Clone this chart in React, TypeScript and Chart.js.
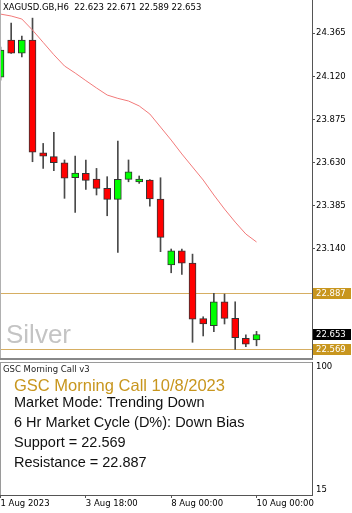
import { useEffect, useRef } from "react";
import { Chart, registerables } from "chart.js";

Chart.register(...registerables);

// ---------- data ----------
const SYMBOL = "XAGUSD.GB,H6";
const OPEN = [24.116, 24.326, 24.252, 24.326, 23.686, 23.664, 23.629, 23.544, 23.569, 23.537, 23.484, 23.421, 23.535, 23.520, 23.531, 23.423, 23.048, 23.129, 23.059, 22.743, 22.703, 22.839, 22.745, 22.631, 22.623];
const HIGH = [24.287, 24.423, 24.349, 24.451, 23.739, 23.802, 23.645, 23.667, 23.645, 23.597, 23.550, 23.752, 23.645, 23.554, 23.533, 23.544, 23.139, 23.139, 23.110, 22.754, 22.887, 22.883, 22.839, 22.652, 22.671];
const LOW = [24.099, 24.250, 24.230, 23.635, 23.597, 23.584, 23.427, 23.347, 23.478, 23.446, 23.328, 23.120, 23.521, 23.512, 23.383, 23.124, 23.004, 22.995, 22.609, 22.645, 22.669, 22.713, 22.569, 22.584, 22.589];
const CLOSE = [24.270, 24.252, 24.326, 23.690, 23.666, 23.630, 23.541, 23.571, 23.529, 23.484, 23.421, 23.535, 23.578, 23.537, 23.423, 23.205, 23.129, 23.058, 22.741, 22.714, 22.839, 22.745, 22.635, 22.598, 22.653];
const MA = [24.474, 24.463, 24.446, 24.383, 24.313, 24.243, 24.179, 24.139, 24.096, 24.054, 24.014, 23.995, 23.980, 23.952, 23.906, 23.832, 23.758, 23.679, 23.605, 23.531, 23.446, 23.366, 23.292, 23.224, 23.179];

const Y_TICKS = [24.365, 24.12, 23.875, 23.63, 23.385, 23.14];
const SUPPORT = 22.569;
const RESISTANCE = 22.887;

const TIME_TICKS = [0, 8, 16, 24];
const TIME_LABELS = ["1 Aug 2023", "3 Aug 18:00", "8 Aug 00:00", "10 Aug 00:00"];
const SUB_TICKS = [100, 15];

const WATERMARK = "Silver";
const IND_NAME = "GSC Morning Call v3";
const IND_TITLE = "GSC Morning Call 10/8/2023";
const IND_LINES = [
  "Market Mode: Trending Down",
  "6 Hr Market Cycle (D%): Down Bias",
  "Support = 22.569",
  "Resistance = 22.887",
];

// ---------- view ----------
const X_MIN = -0.047;
const X_MAX = 29.2;
const Y_MIN = 22.514;
const Y_MAX = 24.554;
const SUB_MIN = 11.5;
const SUB_MAX = 103.5;

const W = 352;
const MAIN_H = 361;
const SUB_H = 152;
const AXIS_W = 40;
const SMALL = "8.5px 'DejaVu Sans', sans-serif";
const GOLD = "#c8961e";
const AXIS_COLOR = "#555555";

const idx = OPEN.map((_, i) => i);

export default function App() {
  const mainRef = useRef<HTMLCanvasElement>(null);
  const subRef = useRef<HTMLCanvasElement>(null);

  useEffect(() => {
    const mainPlugin = {
      id: "mainDecor",
      beforeDatasetsDraw(chart: any) {
        const { ctx, chartArea: a, scales } = chart;
        const y = scales.y;
        ctx.save();
        ctx.font = "26px 'Liberation Sans', Arial, sans-serif";
        ctx.fillStyle = "#c4c4c4";
        ctx.textBaseline = "alphabetic";
        ctx.textAlign = "left";
        ctx.fillText(WATERMARK, 6, 343);
        ctx.strokeStyle = "#d6ae62";
        ctx.lineWidth = 1;
        [RESISTANCE, SUPPORT].forEach((v) => {
          const py = Math.round(y.getPixelForValue(v)) + 0.5;
          ctx.beginPath();
          ctx.moveTo(a.left, py);
          ctx.lineTo(a.right, py);
          ctx.stroke();
        });
        ctx.restore();
      },
      afterDraw(chart: any) {
        const { ctx, chartArea: a, scales } = chart;
        const y = scales.y;
        ctx.save();
        // frame
        ctx.strokeStyle = "#b0b0b0";
        ctx.lineWidth = 1;
        ctx.beginPath();
        ctx.moveTo(0.5, 0);
        ctx.lineTo(0.5, a.bottom);
        ctx.stroke();
        ctx.strokeStyle = "#888888";
        ctx.lineWidth = 2;
        ctx.beginPath();
        ctx.moveTo(0, a.bottom);
        ctx.lineTo(a.right + 1, a.bottom);
        ctx.stroke();
        // price tags
        const last = CLOSE.length - 1;
        const tags: [number, string][] = [
          [RESISTANCE, GOLD],
          [CLOSE[last], "#000000"],
          [SUPPORT, GOLD],
        ];
        ctx.font = SMALL;
        ctx.textBaseline = "middle";
        ctx.textAlign = "left";
        tags.forEach(([v, c]) => {
          const py = y.getPixelForValue(v);
          ctx.fillStyle = c;
          ctx.fillRect(a.right + 1, Math.round(py - 5.5), 38, 11);
          ctx.fillStyle = "#ffffff";
          ctx.fillText(v.toFixed(3), a.right + 4, Math.round(py - 5.5) + 5.5);
        });
        // header
        ctx.fillStyle = "#000000";
        ctx.fillText(
          `${SYMBOL}  ${OPEN[last].toFixed(3)} ${HIGH[last].toFixed(3)} ${LOW[last].toFixed(3)} ${CLOSE[last].toFixed(3)}`,
          3,
          8
        );
        ctx.restore();
      },
    };

    const main = new Chart(mainRef.current as HTMLCanvasElement, {
      type: "bar",
      data: {
        datasets: [
          {
            type: "line",
            data: idx.map((i) => ({ x: i, y: MA[i] })),
            borderColor: "#f27a7a",
            borderWidth: 1,
            pointRadius: 0,
            tension: 0,
            order: 0,
          } as any,
          {
            type: "bar",
            data: idx.map((i) => ({ x: i, y: [OPEN[i], CLOSE[i]] })),
            backgroundColor: idx.map((i) => (CLOSE[i] >= OPEN[i] ? "#00ff00" : "#ff0000")),
            borderColor: "#333333",
            borderWidth: 1,
            borderSkipped: false,
            barThickness: 7,
            grouped: false,
            order: 1,
          } as any,
          {
            type: "bar",
            data: idx.map((i) => ({ x: i, y: [LOW[i], HIGH[i]] })),
            backgroundColor: "#4a4a4a",
            borderWidth: 0,
            barThickness: 1,
            grouped: false,
            order: 2,
          } as any,
        ],
      },
      options: {
        responsive: false,
        animation: false,
        layout: { padding: { top: 0, left: 0, right: 0, bottom: 2 } },
        plugins: { legend: { display: false }, tooltip: { enabled: false } },
        scales: {
          x: { type: "linear", display: false, min: X_MIN, max: X_MAX, offset: false },
          y: {
            type: "linear",
            position: "right",
            min: Y_MIN,
            max: Y_MAX,
            afterBuildTicks: (s: any) => {
              s.ticks = Y_TICKS.map((v) => ({ value: v }));
            },
            afterFit: (s: any) => {
              s.width = AXIS_W;
              s.paddingTop = 0;
              s.paddingBottom = 0;
            },
            border: { display: true, color: AXIS_COLOR, width: 1 },
            grid: { drawOnChartArea: false, drawTicks: true, tickLength: 3, color: AXIS_COLOR },
            ticks: {
              padding: 1,
              color: "#000000",
              font: { family: "'DejaVu Sans', sans-serif", size: 8.5 },
              callback: (v: any) => Number(v).toFixed(3),
            },
          },
        },
      } as any,
      plugins: [mainPlugin],
    });

    const subPlugin = {
      id: "subDecor",
      afterDraw(chart: any) {
        const { ctx, chartArea: a } = chart;
        ctx.save();
        ctx.strokeStyle = "#9a9a9a";
        ctx.lineWidth = 1;
        ctx.beginPath();
        ctx.moveTo(0.5, a.top);
        ctx.lineTo(0.5, a.bottom);
        ctx.moveTo(0, a.top + 0.5);
        ctx.lineTo(a.right, a.top + 0.5);
        ctx.stroke();
        ctx.textAlign = "left";
        ctx.textBaseline = "alphabetic";
        ctx.fillStyle = "#222222";
        ctx.font = SMALL;
        ctx.fillText(IND_NAME, 3, a.top + 10);
        ctx.fillStyle = GOLD;
        ctx.font = "16.5px 'Liberation Sans', Arial, sans-serif";
        ctx.fillText(IND_TITLE, 14, a.top + 29);
        ctx.fillStyle = "#111111";
        ctx.font = "14.5px 'Liberation Sans', Arial, sans-serif";
        IND_LINES.forEach((t, k) => {
          ctx.fillText(t, 14, a.top + 45 + k * 20);
        });
        ctx.restore();
      },
    };

    const sub = new Chart(subRef.current as HTMLCanvasElement, {
      type: "line",
      data: { datasets: [] },
      options: {
        responsive: false,
        animation: false,
        layout: { padding: { top: 1, left: 0, right: 0, bottom: 0 } },
        plugins: { legend: { display: false }, tooltip: { enabled: false } },
        scales: {
          x: {
            type: "linear",
            min: X_MIN,
            max: X_MAX,
            afterBuildTicks: (s: any) => {
              s.ticks = TIME_TICKS.map((v) => ({ value: v }));
            },
            afterFit: (s: any) => {
              s.height = 18;
              s.paddingLeft = 0;
              s.paddingRight = 0;
            },
            border: { display: true, color: AXIS_COLOR, width: 1 },
            grid: { drawOnChartArea: false, drawTicks: true, tickLength: 3, color: AXIS_COLOR },
            ticks: {
              align: "start",
              maxRotation: 0,
              minRotation: 0,
              autoSkip: false,
              padding: 1,
              color: "#000000",
              font: { family: "'DejaVu Sans', sans-serif", size: 8.5 },
              callback: (_v: any, i: number) => TIME_LABELS[i],
            },
          },
          y: {
            type: "linear",
            position: "right",
            min: SUB_MIN,
            max: SUB_MAX,
            afterBuildTicks: (s: any) => {
              s.ticks = SUB_TICKS.map((v) => ({ value: v }));
            },
            afterFit: (s: any) => {
              s.width = AXIS_W;
              s.paddingTop = 0;
              s.paddingBottom = 0;
            },
            border: { display: true, color: AXIS_COLOR, width: 1 },
            grid: { drawOnChartArea: false, drawTicks: false },
            ticks: {
              padding: 4,
              color: "#000000",
              font: { family: "'DejaVu Sans', sans-serif", size: 8.5 },
              callback: (v: any) => String(v),
            },
          },
        },
      } as any,
      plugins: [subPlugin],
    });

    return () => {
      main.destroy();
      sub.destroy();
    };
  }, []);

  return (
    <div style={{ position: "absolute", left: 0, top: 0, width: W, height: MAIN_H + SUB_H, background: "#ffffff" }}>
      <canvas ref={mainRef} width={W} height={MAIN_H} style={{ display: "block", width: W, height: MAIN_H }} />
      <canvas ref={subRef} width={W} height={SUB_H} style={{ display: "block", width: W, height: SUB_H }} />
    </div>
  );
}
